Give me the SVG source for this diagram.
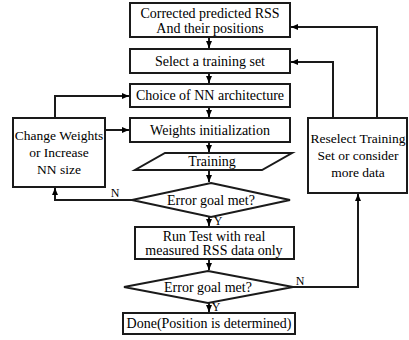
<svg xmlns="http://www.w3.org/2000/svg" width="409" height="340" viewBox="0 0 409 340" font-family="Liberation Serif, DejaVu Serif, serif">
<style>
.n{fill:#fff;stroke:#1a1a1a;stroke-width:2}
.t{font-size:14px;fill:#000;text-anchor:middle}
.s{font-size:13.5px;fill:#000;text-anchor:middle}
.l{font-size:12px;fill:#000;text-anchor:middle}
.c{fill:none;stroke:#1a1a1a;stroke-width:2}
</style>
<defs>
<marker id="a" markerUnits="userSpaceOnUse" markerWidth="8" markerHeight="8" viewBox="0 0 8 8" refX="7" refY="4" orient="auto">
<path d="M0,1 L7,4 L0,7 Z" fill="#000"/>
</marker>
</defs>
<rect width="409" height="340" fill="#fff"/>
<g id="connectors">
<path class="c" d="M209,37 V48" marker-end="url(#a)"/>
<path class="c" d="M209,73 V83" marker-end="url(#a)"/>
<path class="c" d="M209,107 V117" marker-end="url(#a)"/>
<path class="c" d="M209,142 V152" marker-end="url(#a)"/>
<path class="c" d="M209,170 V182" marker-end="url(#a)"/>
<path class="c" d="M209,217 V226" marker-end="url(#a)"/>
<path class="c" d="M209,259 V270" marker-end="url(#a)"/>
<path class="c" d="M209,303 V312" marker-end="url(#a)"/>
<path class="c" d="M132,200 H55 V188" marker-end="url(#a)"/>
<path class="c" d="M55,118 V96 H129" marker-end="url(#a)"/>
<path class="c" d="M105,130 H129" marker-end="url(#a)"/>
<path class="c" d="M293,287 H358 V194" marker-end="url(#a)"/>
<path class="c" d="M333,118 V62 H291" marker-end="url(#a)"/>
<path class="c" d="M377,118 V27 H291" marker-end="url(#a)"/>
<text class="l" x="115" y="197">N</text>
<text class="l" x="300" y="285">N</text>
<text class="l" x="218" y="225">Y</text>
<text class="l" x="216" y="311">Y</text>
</g>
<g id="n1"><rect class="n" x="130" y="3" width="160" height="34"/><text class="t" x="210" y="18">Corrected predicted RSS</text><text class="t" x="210" y="33">And their positions</text></g>
<g id="n2"><rect class="n" x="130" y="49" width="160" height="24"/><text class="t" x="210" y="66">Select a training set</text></g>
<g id="n3"><rect class="n" x="130" y="84" width="160" height="23"/><text class="t" x="210" y="100">Choice of NN architecture</text></g>
<g id="n4"><rect class="n" x="130" y="118" width="160" height="24"/><text class="t" x="210" y="135">Weights initialization</text></g>
<g id="n5"><polygon class="n" points="165,153 292,153 262,170 135,170"/><text class="t" x="212" y="166">Training</text></g>
<g id="n6"><polygon class="n" points="211,183 290,200 211,217 132,200"/><text class="t" x="211" y="205">Error goal met?</text></g>
<g id="n7"><rect class="n" x="135" y="227" width="159" height="32"/><text class="t" x="214" y="241">Run Test with real</text><text class="t" x="214" y="255">measured RSS data only</text></g>
<g id="n8"><polygon class="n" points="208,271 293,287 208,303 124,287"/><text class="t" x="208" y="292">Error goal met?</text></g>
<g id="n9"><rect class="n" x="123" y="313" width="172" height="21"/><text class="t" x="209" y="328">Done(Position is determined)</text></g>
<g id="n10"><rect class="n" x="13" y="118" width="92" height="69"/><text class="s" x="59" y="140">Change Weights</text><text class="s" x="59" y="157">or Increase</text><text class="s" x="59" y="174">NN size</text></g>
<g id="n11"><rect class="n" x="308" y="118" width="99" height="75"/><text class="s" x="358" y="143">Reselect Training</text><text class="s" x="358" y="160">Set or consider</text><text class="s" x="358" y="177">more data</text></g>
</svg>
